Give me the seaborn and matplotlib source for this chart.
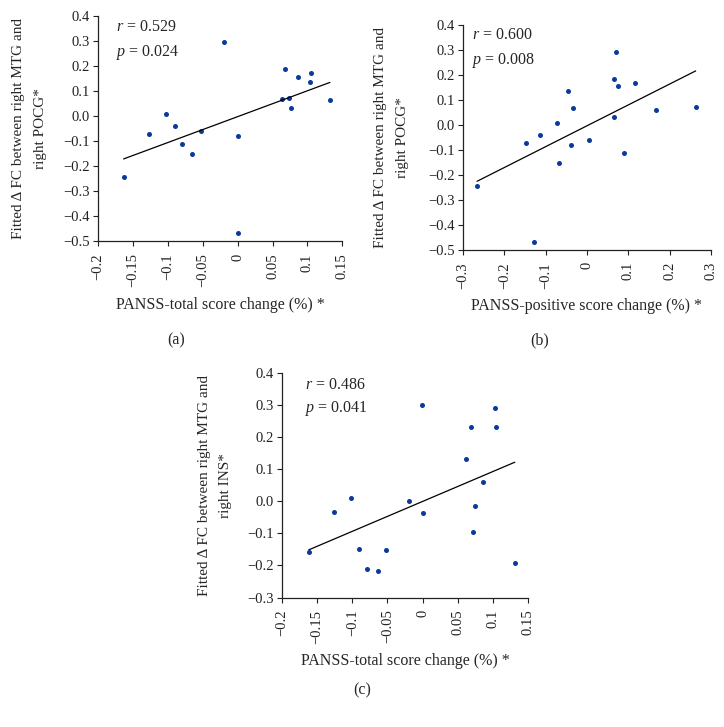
import matplotlib
matplotlib.use("Agg")
import matplotlib.pyplot as plt
import numpy as np
import pandas as pd
import seaborn as sns
from matplotlib.ticker import FuncFormatter

# PANSS-total score change (shared by panels a and c)
total_change = [-0.163, -0.126, -0.103, -0.090, -0.080, -0.065, -0.052, -0.020, 0.000,
                0.000, 0.063, 0.068, 0.073, 0.076, 0.086, 0.103, 0.105, 0.132]
# panel (a): fitted delta FC right MTG - right POCG
fc_pocg_a = [-0.243, -0.071, 0.011, -0.039, -0.109, -0.152, -0.059, 0.296, -0.080,
             -0.467, 0.068, 0.189, 0.073, 0.033, 0.159, 0.139, 0.172, 0.065]

# panel (b): PANSS-positive score change vs fitted delta FC right MTG - right POCG
positive_change = [-0.266, -0.148, -0.113, -0.129, -0.073, -0.067, -0.046, -0.039, -0.035,
                   0.004, 0.065, 0.070, 0.065, 0.074, 0.089, 0.117, 0.167, 0.263]
fc_pocg_b = [-0.244, -0.072, -0.040, -0.467, 0.009, -0.153, 0.136, -0.081, 0.067,
             -0.060, 0.185, 0.292, 0.031, 0.155, -0.111, 0.169, 0.061, 0.071]

# panel (c): PANSS-total score change vs fitted delta FC right MTG - right INS
total_change_c = [-0.162, -0.126, -0.102, -0.090, -0.079, -0.064, -0.052, -0.020, -0.001,
                  0.000, 0.062, 0.069, 0.072, 0.075, 0.086, 0.103, 0.104, 0.131]
fc_ins_c = [-0.157, -0.033, 0.009, -0.148, -0.210, -0.216, -0.152, -0.001, 0.298,
            -0.036, 0.130, 0.231, -0.096, -0.015, 0.060, 0.289, 0.231, -0.192]

stats = {"a": ("0.529", "0.024"), "b": ("0.600", "0.008"), "c": ("0.486", "0.041")}

xticks_total = [-0.2, -0.15, -0.1, -0.05, 0, 0.05, 0.1, 0.15]
xticks_pos = [-0.3, -0.2, -0.1, 0, 0.1, 0.2, 0.3]
yticks_pocg = [-0.5, -0.4, -0.3, -0.2, -0.1, 0.0, 0.1, 0.2, 0.3, 0.4]
yticks_ins = [-0.3, -0.2, -0.1, 0.0, 0.1, 0.2, 0.3, 0.4]

sns.set_style("ticks")
plt.rcParams["font.family"] = ["Liberation Serif", "DejaVu Serif"]
plt.rcParams["mathtext.fontset"] = "custom"
plt.rcParams["mathtext.rm"] = "Liberation Serif"
plt.rcParams["mathtext.it"] = "Liberation Serif:italic"
plt.rcParams["axes.edgecolor"] = "#222222"
plt.rcParams["xtick.color"] = "#222222"
plt.rcParams["ytick.color"] = "#222222"

DOT = "#0b3a9b"
FS = 10.5


def fmt_x(v, _):
    s = f"{v:g}"
    if s in ("-0", "0"):
        return "0"
    return s.replace("-", "\u2212")


def fmt_y(v, _):
    s = f"{v:.1f}"
    if s == "-0.0":
        s = "0.0"
    return s.replace("-", "\u2212")


def panel(fig, rect, x, y, xlabel, ylabel, xticks, yticks, key, txt_xy, ylab_x, tag, tag_xy):
    ax = fig.add_axes(rect)
    df = pd.DataFrame({"x": x, "y": y})
    sns.regplot(data=df, x="x", y="y", ax=ax, ci=None, truncate=True,
                scatter_kws={"s": 13, "color": DOT, "linewidths": 0, "alpha": 1},
                line_kws={"color": "black", "linewidth": 0.9})
    ax.set_xlim(xticks[0], xticks[-1])
    ax.set_ylim(yticks[0], yticks[-1])
    ax.set_xticks(xticks)
    ax.set_yticks(yticks)
    ax.xaxis.set_major_formatter(FuncFormatter(fmt_x))
    ax.yaxis.set_major_formatter(FuncFormatter(fmt_y))
    ax.tick_params(axis="x", labelrotation=90, labelsize=FS, length=3.6, width=0.8, pad=5)
    ax.tick_params(axis="y", labelsize=FS, length=3.6, width=0.8, pad=2)
    for sp in ("top", "right"):
        ax.spines[sp].set_visible(False)
    for sp in ("left", "bottom"):
        ax.spines[sp].set_linewidth(0.9)
    ax.set_xlabel(xlabel, fontsize=FS + 1, labelpad=7)
    ax.set_ylabel(ylabel, fontsize=FS + 0.5, linespacing=1.85)
    ax.yaxis.set_label_coords(ylab_x, 0.5)
    r, p = stats[key]
    ax.text(txt_xy[0], txt_xy[1], f"$r$ = {r}", transform=ax.transAxes,
            fontsize=FS + 1, va="center", ha="left")
    ax.text(txt_xy[0], txt_xy[2], f"$p$ = {p}", transform=ax.transAxes,
            fontsize=FS + 1, va="center", ha="left")
    fig.text(tag_xy[0], tag_xy[1], tag, fontsize=FS + 1, ha="center", va="center")
    return ax


fig = plt.figure(figsize=(7.24, 7.27), dpi=100)

panel(fig, [0.135, 0.668, 0.338, 0.3095], total_change, fc_pocg_a,
      "PANSS-total score change (%) *",
      "Fitted \u0394 FC between right MTG and\nright POCG*",
      xticks_total, yticks_pocg, "a", (0.073, 0.951, 0.84), -0.208,
      "(a)", (176 / 724, 1 - 340 / 727))

panel(fig, [0.6395, 0.656, 0.3425, 0.3095], positive_change, fc_pocg_b,
      "PANSS-positive score change (%) *",
      "Fitted \u0394 FC between right MTG and\nright POCG*",
      xticks_pos, yticks_pocg, "b", (0.036, 0.956, 0.844), -0.218,
      "(b)", (540 / 724, 1 - 340 / 727))

panel(fig, [0.3895, 0.178, 0.340, 0.3095], total_change_c, fc_ins_c,
      "PANSS-total score change (%) *",
      "Fitted \u0394 FC between right MTG and\nright INS*",
      xticks_total, yticks_ins, "c", (0.093, 0.947, 0.84), -0.203,
      "(c)", (362 / 724, 1 - 690 / 727))

fig.savefig("out.png", dpi=100, facecolor="white")
